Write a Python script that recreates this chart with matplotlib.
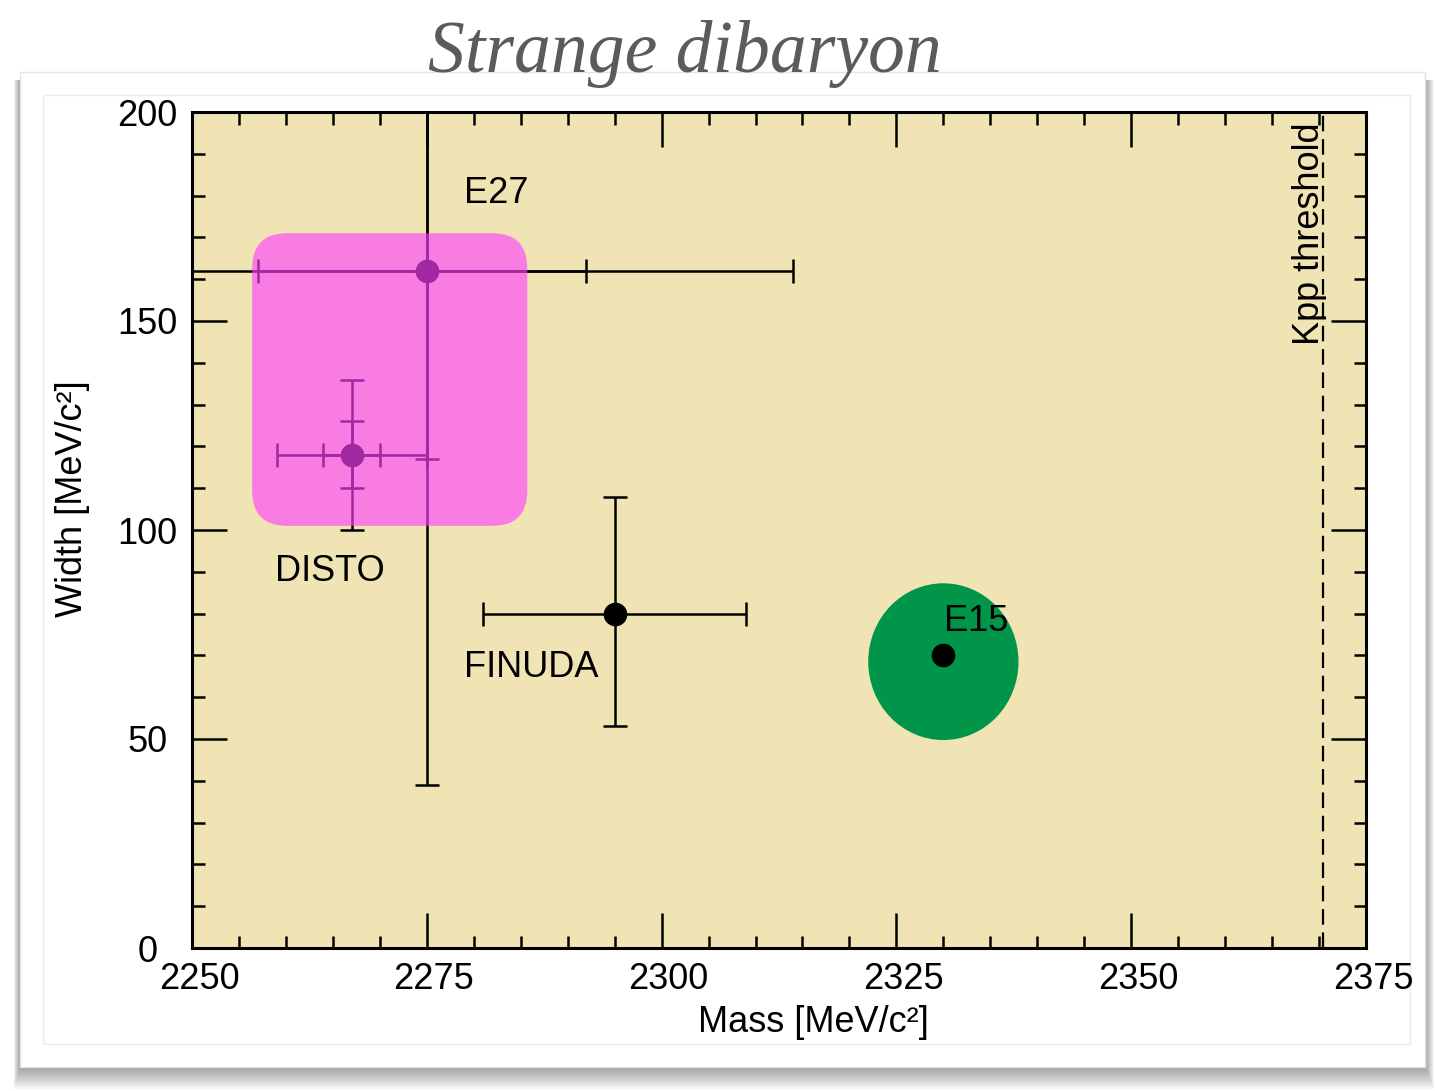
import matplotlib.pyplot as plt
from matplotlib.patches import FancyBboxPatch, Ellipse, Rectangle
from matplotlib.transforms import ScaledTranslation

plt.rcParams['font.family'] = ['Liberation Sans', 'DejaVu Sans']

# E27: stat and total (stat + syst) errors, [low, high]
e27_mass, e27_width = 2275, 162
e27_mass_stat = [18, 17]
e27_mass_tot = [48, 39]
e27_width_stat = [45, 87]
e27_width_tot = [123, 153]

# DISTO
disto_mass, disto_width = 2267, 118
disto_mass_stat = [3, 3]
disto_mass_tot = [8, 8]
disto_width_stat = [8, 8]
disto_width_tot = [18, 18]

# FINUDA
finuda_mass, finuda_width = 2295, 80
finuda_mass_err = [14, 14]
finuda_width_err = [27, 28]

# E15 and its region
e15_mass, e15_width = 2330, 70
e15_region = [2330, 68.5, 16, 37.5]   # centre mass, centre width, full mass range, full width range

# E27 region (pink box)
e27_box_mass = [2256.4, 2285.7]
e27_box_width = [101, 171]

kpp_threshold = 2370.4

W, H = 1435, 1091
fig = plt.figure(figsize=(W / 100, H / 100), dpi=100)


def fig_rect(x0, y0, x1, y1, **kw):
    return Rectangle((x0 / W, 1 - y1 / H), (x1 - x0) / W, (y1 - y0) / H,
                     transform=fig.transFigure, figure=fig, **kw)


# slide panel with a soft shadow
for i in range(14):
    fig.patches.append(fig_rect(20 - i * 0.5, 80, 1425 + i * 0.7, 1067 + i * 1.7,
                                facecolor='k', edgecolor='none', alpha=0.03, zorder=-20))
fig.patches.append(fig_rect(20, 72, 1425, 1067, facecolor='white', edgecolor='#e4e4e4',
                            lw=1, zorder=-10))
fig.patches.append(fig_rect(43, 95, 1410, 1044, facecolor='none', edgecolor='#ececec',
                            lw=1, zorder=-9))

ax = fig.add_axes([192 / W, 143 / H, 1174 / W, 836 / H])
ax.set_facecolor('#f0e4b4')

lw = 1.8
ax.errorbar(e27_mass, e27_width, xerr=[[e27_mass_tot[0]], [e27_mass_tot[1]]],
            yerr=[[e27_width_tot[0]], [e27_width_tot[1]]], fmt='none', ecolor='k',
            elinewidth=lw, capsize=8.5, capthick=lw, zorder=2)
ax.errorbar(e27_mass, e27_width, xerr=[[e27_mass_stat[0]], [e27_mass_stat[1]]],
            yerr=[[e27_width_stat[0]], [e27_width_stat[1]]], fmt='o', color='k', ms=16,
            elinewidth=lw, capsize=8.5, capthick=lw, zorder=2)

ax.errorbar(disto_mass, disto_width, xerr=[[disto_mass_tot[0]], [disto_mass_tot[1]]],
            yerr=[[disto_width_tot[0]], [disto_width_tot[1]]], fmt='none', ecolor='k',
            elinewidth=lw, capsize=8.5, capthick=lw, zorder=2)
ax.errorbar(disto_mass, disto_width, xerr=[[disto_mass_stat[0]], [disto_mass_stat[1]]],
            yerr=[[disto_width_stat[0]], [disto_width_stat[1]]], fmt='o', color='k', ms=16,
            elinewidth=lw, capsize=8.5, capthick=lw, zorder=2)

ax.errorbar(finuda_mass, finuda_width, xerr=[[finuda_mass_err[0]], [finuda_mass_err[1]]],
            yerr=[[finuda_width_err[0]], [finuda_width_err[1]]], fmt='o', color='k', ms=16,
            elinewidth=lw, capsize=8.5, capthick=lw, zorder=2)

# translucent E27 box over the points
bw = e27_box_mass[1] - e27_box_mass[0]
bh = e27_box_width[1] - e27_box_width[0]
box = FancyBboxPatch((e27_box_mass[0], e27_box_width[0]), bw, bh,
                     boxstyle='round,pad=0,rounding_size=3.7', mutation_aspect=2.27,
                     facecolor='#ff40ff', edgecolor='none', alpha=0.63, zorder=3)
ax.add_patch(box)

ax.add_patch(Ellipse((e15_region[0], e15_region[1]), e15_region[2], e15_region[3],
                     facecolor='#009548', edgecolor='none', zorder=2))
ax.plot(e15_mass, e15_width, 'o', color='k', ms=16, zorder=4)

ax.axvline(kpp_threshold, color='k', lw=1.6, ls=(0, (7, 3.5)), zorder=2)
ax.text(2369.0, 197.6, 'Kpp threshold', rotation=90, ha='center', va='top', fontsize=26)

ax.text(2279, 180.6, 'E27', fontsize=26, va='center', zorder=5)
ax.text(2258.8, 90, 'DISTO', fontsize=26, va='center', zorder=5)
ax.text(2279, 67.2, 'FINUDA', fontsize=26, va='center', zorder=5)
ax.text(2330.1, 78, 'E15', fontsize=26, va='center', zorder=5)

ax.set_xlim(2250, 2375)
ax.set_ylim(0, 200)
ax.set_xticks(range(2250, 2376, 25))
ax.set_xticks(range(2250, 2376, 5), minor=True)
ax.set_yticks(range(0, 201, 50))
ax.set_yticks(range(0, 201, 10), minor=True)
ax.tick_params(which='both', direction='in', top=True, right=True, width=1.8, labelsize=26)
ax.tick_params(which='major', length=25)
ax.tick_params(which='minor', length=9)
ax.tick_params(axis='x', pad=10)
ax.tick_params(axis='y', pad=32)
for lbl in ax.get_yticklabels():
    lbl.set_horizontalalignment('center')
shift = ScaledTranslation(7 / 100, 0, fig.dpi_scale_trans)
for lbl in ax.get_xticklabels():
    lbl.set_transform(lbl.get_transform() + shift)
for s in ax.spines.values():
    s.set_linewidth(2.2)

fig.text(72 / W, 1 - 499 / H, 'Width [MeV/c²]', rotation=90, ha='center', va='center', fontsize=26)
fig.text(813 / W, 1 - 1023 / H, 'Mass [MeV/c²]', ha='center', va='center', fontsize=26)
fig.text(685 / W, 1 - 72 / H, 'Strange dibaryon', family='Liberation Serif', style='italic',
         fontsize=53, color='#5b5b5b', ha='center', va='baseline')

fig.savefig('out.png', dpi=100)
